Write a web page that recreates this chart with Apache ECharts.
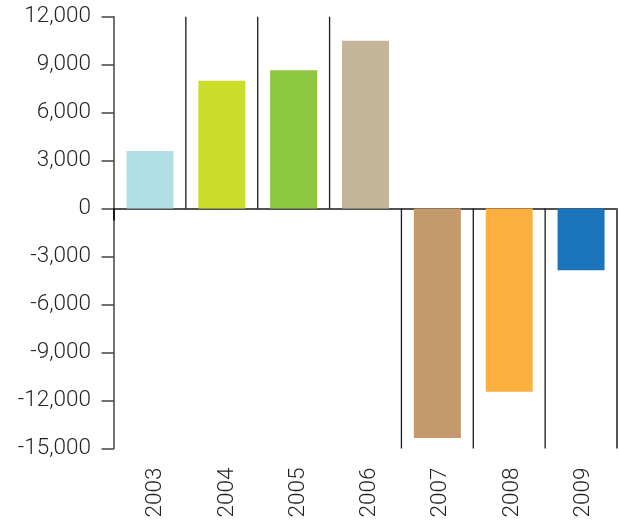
<!DOCTYPE html>
<html>
<head>
<meta charset="utf-8">
<script src="https://cdn.jsdelivr.net/npm/echarts@6/dist/echarts.min.js"></script>
<style>
  html, body { margin: 0; padding: 0; background: #fff; }
  #chart { width: 619px; height: 523px; }
</style>
</head>
<body>
<div id="chart"></div>
<script>
// Annual balance by year
const years = ['2003', '2004', '2005', '2006', '2007', '2008', '2009'];
const values = [3600, 8000, 8650, 10500, -14350, -11450, -3850];
const barColors = ['#b0dfe5', '#cbdd2a', '#8dc63f', '#c4b59b', '#c49a6c', '#fbb040', '#1c75bc'];
const yMin = -15000;
const yMax = 12000;
const yStep = 3000;

const textColor = '#231f20';
const fontFamily = 'Roboto, "Liberation Sans", sans-serif';

const chart = echarts.init(document.getElementById('chart'), null, { renderer: 'canvas' });

// Divider lines: each year gets a line at its left edge spanning the side of zero
// that its bar occupies; the last year also closes its right edge.
function renderDivider(params, api) {
  const idx = api.value(0);
  const val = api.value(1);
  const band = api.size([1, 0])[0];
  const cx = api.coord([idx, 0])[0];
  const y0 = api.coord([idx, 0])[1];
  const yEnd = api.coord([idx, val >= 0 ? yMax : yMin])[1];
  const left = cx - band / 2;
  const style = { stroke: '#1a1a1a', lineWidth: 1.3 };
  const children = [];
  if (idx === 0) {
    children.push({ type: 'line', shape: { x1: left, y1: y0, x2: left, y2: y0 + 12 }, style: { stroke: '#1a1a1a', lineWidth: 2 } });
  } else {
    children.push({ type: 'line', shape: { x1: left, y1: y0, x2: left, y2: yEnd }, style });
  }
  if (idx === years.length - 1) {
    const right = cx + band / 2;
    children.push({ type: 'line', shape: { x1: right, y1: y0, x2: right, y2: yEnd }, style: { stroke: '#555', lineWidth: 2 } });
  }
  return { type: 'group', children };
}

chart.setOption({
  animation: false,
  backgroundColor: '#ffffff',
  grid: [
    { left: 114, right: 2, top: 16.7, bottom: 74.5 },
    { left: 120, right: -4, top: 16.7, bottom: 74.5 }
  ],
  xAxis: [
    {
      type: 'category',
      gridIndex: 0,
      data: years,
      axisLine: { onZero: true, lineStyle: { color: '#1a1a1a', width: 1.5 } },
      axisTick: { show: false },
      axisLabel: { show: false },
      splitLine: { show: false }
    },
    {
      type: 'category',
      gridIndex: 1,
      data: years,
      axisLine: { show: false },
      axisTick: { show: false },
      splitLine: { show: false },
      axisLabel: {
        rotate: 90,
        margin: 19,
        color: textColor,
        fontFamily: fontFamily,
        fontWeight: 300,
        fontSize: 22.5
      }
    }
  ],
  yAxis: [
    {
      type: 'value',
      gridIndex: 0,
      min: yMin,
      max: yMax,
      interval: yStep,
      axisLine: { show: true, lineStyle: { color: '#444', width: 1.5 } },
      axisTick: { show: true, length: 12.5, lineStyle: { color: '#444', width: 1.5 } },
      splitLine: { show: false },
      axisLabel: {
        margin: 23,
        color: textColor,
        fontFamily: fontFamily,
        fontWeight: 300,
        fontSize: 22.5,
        formatter: v => v.toLocaleString('en-US')
      }
    },
    {
      type: 'value',
      gridIndex: 1,
      min: yMin,
      max: yMax,
      show: false
    }
  ],
  series: [
    {
      type: 'bar',
      xAxisIndex: 0,
      yAxisIndex: 0,
      barWidth: 47,
      data: values.map((v, i) => ({ value: v, itemStyle: { color: barColors[i] } })),
      z: 2
    },
    {
      type: 'custom',
      xAxisIndex: 0,
      yAxisIndex: 0,
      renderItem: renderDivider,
      data: values.map((v, i) => [i, v]),
      z: 3,
      silent: true
    }
  ]
});
</script>
</body>
</html>
